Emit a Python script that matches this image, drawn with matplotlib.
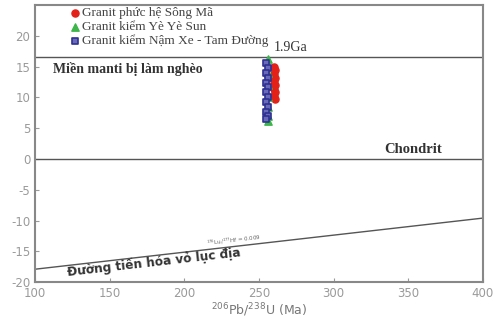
import matplotlib.pyplot as plt

plt.rcParams['axes.unicode_minus'] = False

# zircon data: age (Ma) and eHf(t)
song_ma_age = [260, 261, 260, 261, 260, 261, 260, 261, 260, 261]
song_ma_ehf = [15.0, 14.4, 13.8, 13.2, 12.6, 12.0, 11.4, 10.8, 10.2, 9.8]
ye_ye_sun_age = [256, 256, 256, 256, 256, 256, 256]
ye_ye_sun_ehf = [16.2, 14.0, 12.0, 10.0, 8.5, 7.0, 6.2]
nam_xe_age = [255, 256, 255, 256, 255, 256, 255, 256, 255, 256, 255, 256, 255]
nam_xe_ehf = [15.6, 14.8, 14.0, 13.2, 12.4, 11.6, 10.8, 10.0, 9.2, 8.4, 7.6, 7.0, 6.5]

depleted_mantle = 16.5
crust_x = [100, 400]
crust_y = [-17.9, -9.6]

xticks = [100, 150, 200, 250, 300, 350, 400]
yticks = [-20, -15, -10, -5, 0, 5, 10, 15, 20]

serif = 'Liberation Serif'
gray = '#9a9a9a'

fig = plt.figure(figsize=(5, 3.3), dpi=100)
ax = fig.add_axes([0.07, 0.145, 0.896, 0.84])

ax.axhline(depleted_mantle, color='#555555', lw=1.0)
ax.axhline(0, color='#555555', lw=1.0)
ax.plot(crust_x, crust_y, color='#555555', lw=1.0)

ax.scatter(song_ma_age, song_ma_ehf, marker='o', s=26, color='#e32119',
           label='Granit phức hệ Sông Mã', zorder=3)
ax.scatter(ye_ye_sun_age, ye_ye_sun_ehf, marker='^', s=28, color='#3db54a',
           label='Granit kiểm Yè Yè Sun', zorder=3)
ax.scatter(nam_xe_age, nam_xe_ehf, marker='s', s=22, facecolor='#6a6ab8',
           edgecolor='#2e3192', linewidths=1.2,
           label='Granit kiểm Nậm Xe - Tam Đường', zorder=4)

ax.text(112, 14.6, 'Miền manti bị làm nghèo', family=serif, fontweight='bold',
        fontsize=10, color='#333333', va='center')
ax.text(260, 17.0, '1.9Ga', family=serif, fontsize=10, color='#333333', va='bottom')
ax.text(334, 0.4, 'Chondrit', family=serif, fontweight='bold', fontsize=10.5,
        color='#333333', va='bottom')
ax.text(122, -19.0, 'Đường tiến hóa vỏ lục địa', fontweight='bold', fontsize=8.7,
        color='#333333', rotation=6.5, rotation_mode='anchor')
ax.text(215, -14.0, '$^{176}$Lu/$^{177}$Hf = 0.009', fontsize=4, color='#666666',
        rotation=6.5, rotation_mode='anchor')

ax.set_xlim(100, 400)
ax.set_ylim(-20, 25)
ax.set_xticks(xticks)
ax.set_yticks(yticks)
ax.tick_params(direction='in', length=3, color=gray, labelcolor=gray, labelsize=8.5)
for s in ax.spines.values():
    s.set_color('#888888')
    s.set_linewidth(1.5)
ax.set_xlabel('$^{206}$Pb/$^{238}$U (Ma)', color='#777777', fontsize=9, labelpad=1)

leg = ax.legend(loc='upper left', bbox_to_anchor=(0.055, 1.025), frameon=False,
                prop={'family': serif, 'size': 9.5}, handletextpad=0.0,
                labelspacing=0.1, borderpad=0.2, handlelength=1.0)
for t in leg.get_texts():
    t.set_color('#444444')

fig.savefig('out.png', dpi=100)
